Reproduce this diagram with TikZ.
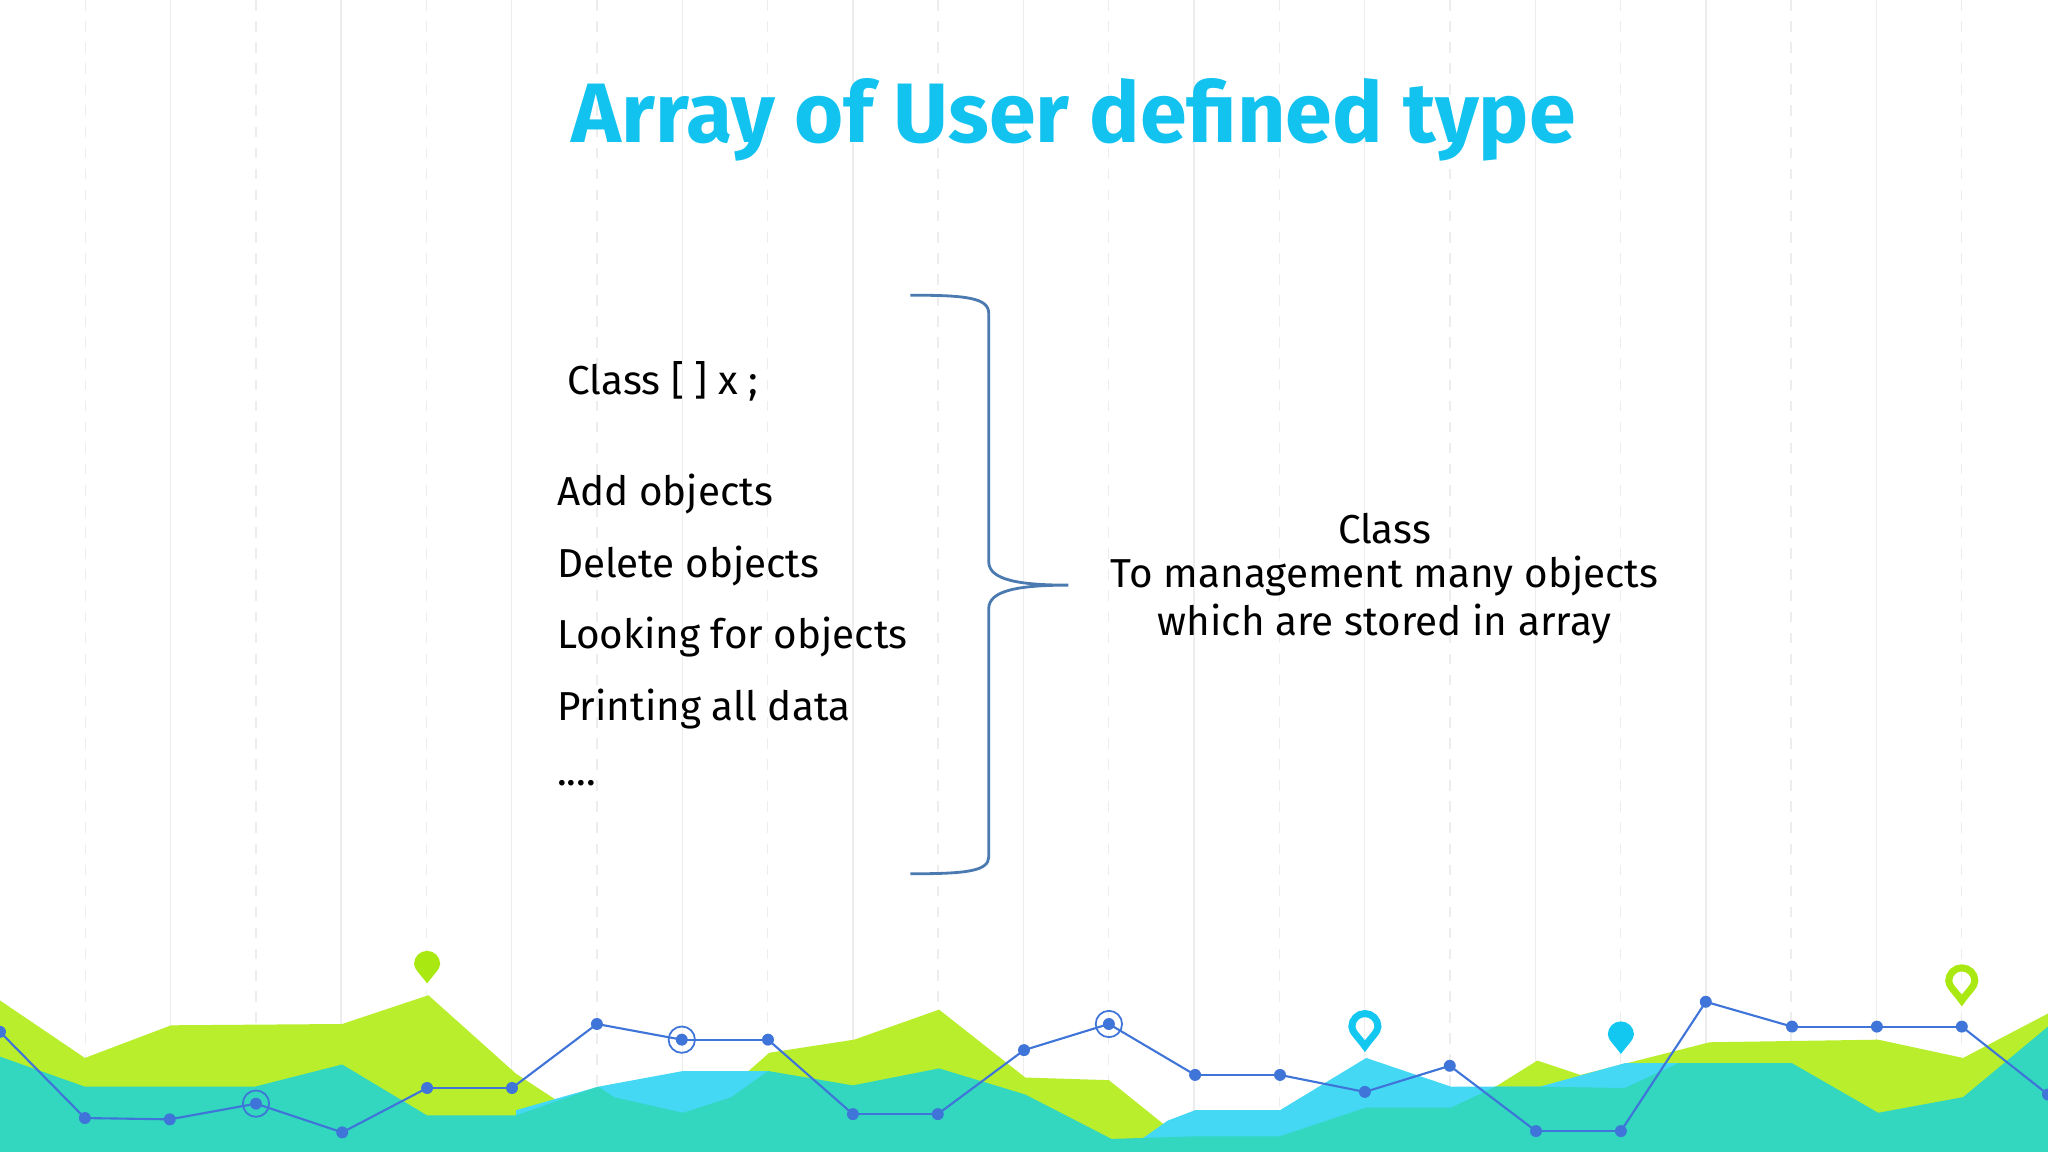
\documentclass[tikz,border=0pt]{standalone}
\usepackage{fontspec}
\setmainfont{Fira Sans}
\begin{document}
\begin{tikzpicture}[x=0.013061cm,y=-0.013061cm,
  body/.style={anchor=west,inner sep=0,font=\fontsize{11.5pt}{14pt}\selectfont},
  rbody/.style={inner sep=0,font=\fontsize{11.5pt}{14pt}\selectfont},
  dot/.style={circle,fill=lineblue,inner sep=0,minimum size=3.4pt},
  ring/.style={circle,draw=lineblue,line width=0.5pt,inner sep=0,minimum size=7.5pt}]
\definecolor{titlec}{HTML}{12C3F0}
\definecolor{braceblue}{HTML}{4A7AB0}
\definecolor{lgreen}{HTML}{B9EE2C}
\definecolor{lcyan}{HTML}{45D8F5}
\definecolor{teal}{HTML}{33D6BF}
\definecolor{lineblue}{HTML}{3F75D8}
\definecolor{pinc}{HTML}{12C8F0}
\definecolor{ping}{HTML}{A9E810}
\useasboundingbox (0,0) rectangle (1568,882);
\fill[white] (0,0) rectangle (1568,882);
\foreach \k in {1,...,23}{
  \pgfmathtruncatemacro{\m}{mod(\k,2)}
  \ifnum\m=1 \draw[black!7,dashed] (65.3*\k,0) -- (65.3*\k,882);
  \else \draw[black!7] (65.3*\k,0) -- (65.3*\k,882); \fi}
% landscape
\fill[lgreen] (0,766) -- (65,810) -- (131,785) -- (262,784) -- (328,762) -- (395,822) -- (450,858) -- (530,858) -- (589,806) -- (654,796) -- (719,773) -- (785,825) -- (849,827) -- (890,860) -- (1000,860) -- (1145,832) -- (1177,812) -- (1210,823) -- (1309,798) -- (1438,796) -- (1503,810) -- (1568,776) -- (1568,882) -- (0,882) -- cycle;
\fill[lcyan] (395,850) -- (458,832) -- (523,820) -- (589,820) -- (610,840) -- (610,882) -- (395,882) -- cycle;
\fill[lcyan] (860,882) -- (894,858) -- (915,850) -- (980,850) -- (1046,810) -- (1111,832) -- (1179,832) -- (1244,814) -- (1285,814) -- (1285,882) -- cycle;
\fill[teal] (0,809) -- (65,832) -- (195,832) -- (262,815) -- (327,854) -- (395,854) -- (458,832) -- (470,840) -- (523,852) -- (560,840) -- (588,820) -- (653,831) -- (719,818) -- (785,838) -- (851,872) -- (915,870) -- (980,870) -- (1046,848) -- (1111,848) -- (1145,832) -- (1179,832) -- (1244,833) -- (1285,814) -- (1372,814) -- (1438,852) -- (1503,840) -- (1568,786) -- (1568,882) -- (0,882) -- cycle;
% line
\foreach \n/\x/\y in {p0/0/790,p1/65/856,p2/130/857,p3/196/845,p4/262/867,p5/327/833,p6/392/833,p7/457/784,p8/522/796,p9/588/796,p10/653/853,p11/718/853,p12/784/804,p13/849/784,p14/915/823,p15/980/823,p16/1045/836,p17/1110/816,p18/1176/866,p19/1241/866,p20/1306/767,p21/1372/786,p22/1437/786,p23/1502/786,p24/1568/838}
  \node[dot] (\n) at (\x,\y) {};
\foreach \i in {1,...,24}{
  \pgfmathtruncatemacro{\j}{\i-1}
  \draw[lineblue,line width=0.6pt] (p\j.center) -- (p\i.center);}
\node[ring] at (p3) {};
\node[ring] at (p8) {};
\node[ring] at (p13) {};
% pins
\fill[ping] (327,753) .. controls (322,746) and (317,742) .. (317,738) arc[start angle=180,end angle=360,radius=10] .. controls (337,742) and (332,746) .. (327,753) -- cycle;
\draw[pinc,line width=2pt] (1045,801) .. controls (1040,794) and (1035,790) .. (1035,786) arc[start angle=180,end angle=360,radius=10] .. controls (1055,790) and (1050,794) .. (1045,801) -- cycle;
\fill[pinc] (1241,807) .. controls (1236,800) and (1231,796) .. (1231,792) arc[start angle=180,end angle=360,radius=10] .. controls (1251,796) and (1246,800) .. (1241,807) -- cycle;
\draw[ping,line width=2pt] (1502,766) .. controls (1497,759) and (1492,755) .. (1492,751) arc[start angle=180,end angle=360,radius=10] .. controls (1512,755) and (1507,759) .. (1502,766) -- cycle;
% title
\node[text=titlec,font=\fontsize{24pt}{28pt}\selectfont\bfseries] (title) at (822,92) {Array of User defined type};
% left text
\node[body] (t0) at (434,292) {Class [ ] x ;};
\node[body] (t1) at (426,378) {Add objects};
\node[body] (t2) at (426,433) {Delete objects};
\node[body] (t3) at (426,488) {Looking for objects};
\node[body] (t4) at (426,543) {Printing all data};
\node[body] (t5) at (426,600) {....};
% brace
\coordinate (btop) at (697,226);
\coordinate (bbot) at (697,669);
\coordinate (btip) at (818,448);
\draw[braceblue,line width=0.8pt] (btop) .. controls (740,226) and (757,228) .. (757,240) -- (757,430) .. controls (757,444) and (780,448) .. (btip) .. controls (780,448) and (757,452) .. (757,466) -- (757,656) .. controls (757,667) and (740,669) .. (bbot);
% right text
\node[rbody] (r1) at (1060,405) {Class};
\node[rbody] (r2) at (1060,441) {To management many objects};
\node[rbody] (r3) at (1060,478) {which are stored in array};
\end{tikzpicture}
\end{document}
